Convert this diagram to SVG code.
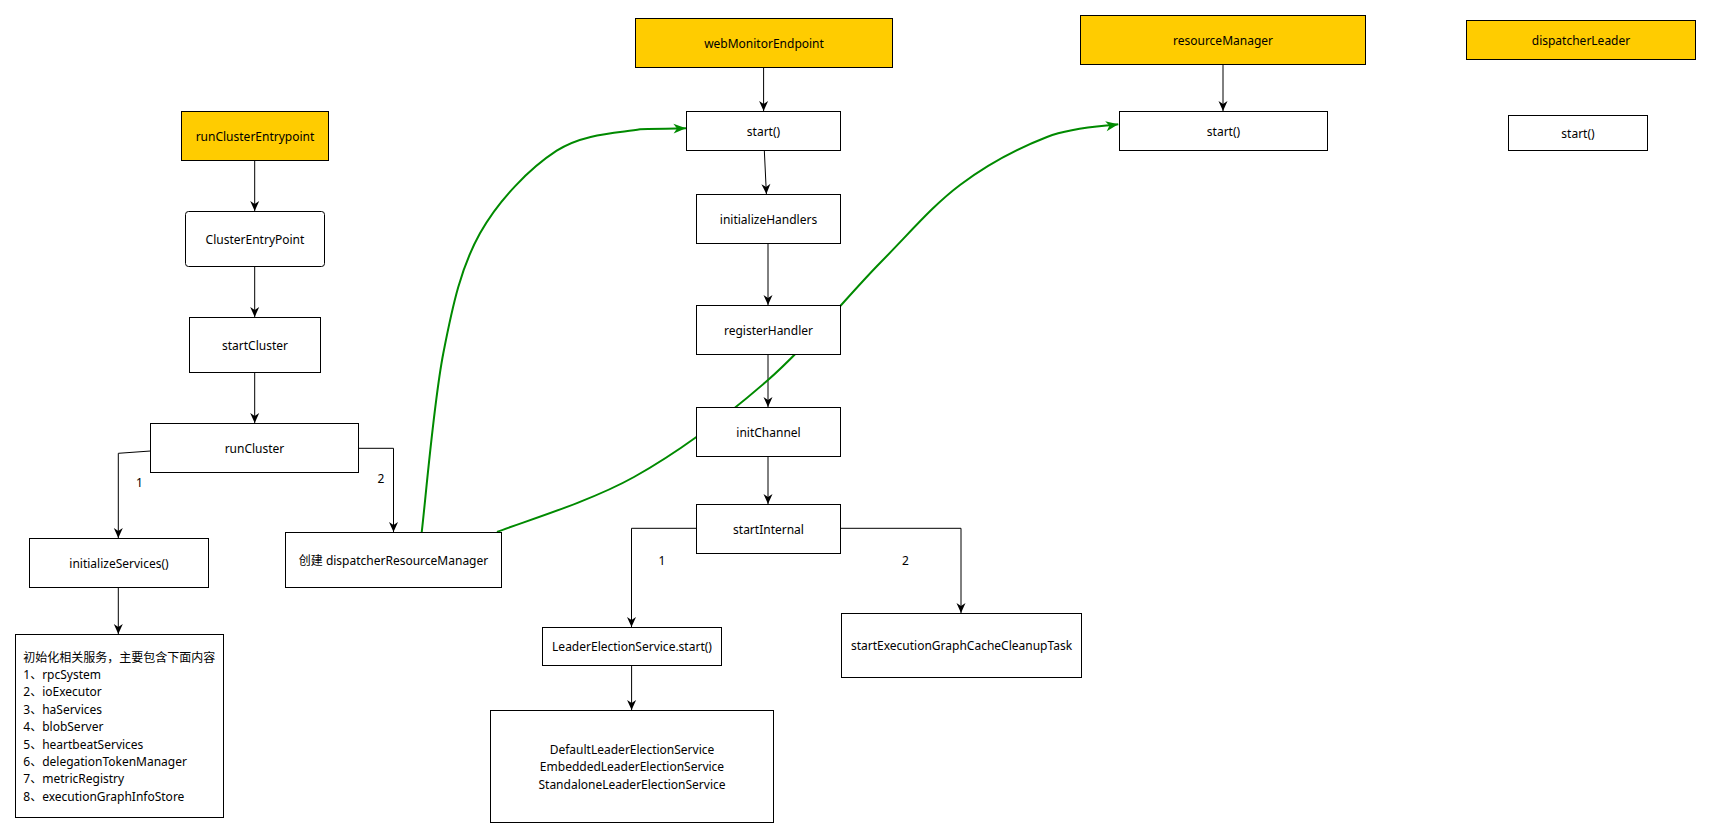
<svg xmlns="http://www.w3.org/2000/svg" width="1710" height="838" viewBox="0 0 1710 838">
<style>
  .box { fill: #ffffff; stroke: #000000; stroke-width: 1; }
  .hl { fill: #ffcc00; stroke: #000000; stroke-width: 1; }
  text { font-family: "Noto Sans", "Noto Sans CJK SC", sans-serif; font-size: 12px; fill: #000000; }
  .c { text-anchor: middle; dominant-baseline: central; }
  .l { text-anchor: start; dominant-baseline: central; }
  .edge { fill: none; stroke: #000000; stroke-width: 1; marker-end: url(#arr); }
  .green { fill: none; stroke: #008a00; stroke-width: 2; marker-end: url(#garr); }
</style>
<defs>
  <marker id="arr" viewBox="-11 -6 12 12" refX="0" refY="0" markerWidth="12" markerHeight="12" markerUnits="userSpaceOnUse" orient="auto">
    <path d="M0,0 L-10,-4.5 L-7,0 L-10,4.5 Z" fill="#000000"/>
  </marker>
  <marker id="garr" viewBox="-14 -7 15 14" refX="0" refY="0" markerWidth="15" markerHeight="14" markerUnits="userSpaceOnUse" orient="auto">
    <path d="M0,0 L-12.5,-5 L-9,0 L-12.5,5 Z" fill="#008a00"/>
  </marker>
</defs>
<rect x="0" y="0" width="1710" height="838" fill="#ffffff"/>

<g id="connectors">
  <path class="edge" d="M254.7,160.5 L254.7,211"/>
  <path class="edge" d="M254.7,266 L254.7,317"/>
  <path class="edge" d="M254.7,372 L254.7,423"/>
  <path class="edge" d="M150.5,451 L118.3,453.3 L118.3,538"/>
  <path class="edge" d="M358.5,448.3 L393.5,448.3 L393.5,532"/>
  <path class="edge" d="M118.3,587 L118.3,634"/>
  <path class="edge" d="M763.6,67 L763.6,111"/>
  <path class="edge" d="M764.3,150 L766.4,194"/>
  <path class="edge" d="M768,243 L768,305"/>
  <path class="edge" d="M768,354 L768,407"/>
  <path class="edge" d="M768,456 L768,504"/>
  <path class="edge" d="M696,528.3 L631.5,528.3 L631.5,627"/>
  <path class="edge" d="M840,528.3 L961,528.3 L961,613"/>
  <path class="edge" d="M631.6,665.5 L631.6,710"/>
  <path class="edge" d="M1223,64 L1223,111"/>
  <path class="green" d="M421.7,532.3 C425.3,502.5 433.6,403.1 443.3,353.3 C453,303.5 461.1,267.1 480,233.3 C498.9,199.5 530,168 556.7,150.7 C583.4,133.4 618.4,133 640,129.3 C661.6,128.6 678.3,128.5 686,128.3"/>
  <path class="green" d="M497,532 C519.8,522.8 588.8,502.3 634,477 C679.2,451.7 727,415.7 768,380 C809,344.3 848,295.5 880,263 C912,230.5 932.2,206 960,185 C987.8,164 1020.7,147.2 1047,137 C1073.3,126.8 1106.2,126.2 1118.3,124.3"/>
  <text class="c" x="139.5" y="482">1</text>
  <text class="c" x="381" y="478.5">2</text>
  <text class="c" x="662" y="560">1</text>
  <text class="c" x="905.5" y="560">2</text>
</g>

<g id="runClusterEntrypoint">
  <rect class="hl" x="181.5" y="111.5" width="147" height="49"/>
  <text class="c" x="255" y="136">runClusterEntrypoint</text>
</g>
<g id="ClusterEntryPoint">
  <rect class="box" x="185.5" y="211.5" width="139" height="55" rx="3" ry="3"/>
  <text class="c" x="255" y="239">ClusterEntryPoint</text>
</g>
<g id="startCluster">
  <rect class="box" x="189.5" y="317.5" width="131" height="55"/>
  <text class="c" x="255" y="345">startCluster</text>
</g>
<g id="runCluster">
  <rect class="box" x="150.5" y="423.5" width="208" height="49"/>
  <text class="c" x="254.5" y="448">runCluster</text>
</g>
<g id="initializeServices">
  <rect class="box" x="29.5" y="538.5" width="179" height="49"/>
  <text class="c" x="119" y="563">initializeServices()</text>
</g>
<g id="servicesList">
  <rect class="box" x="15.5" y="634.5" width="208" height="183"/>
  <text class="l" x="23.3" y="657">初始化相关服务，主要包含下面内容</text>
  <text class="l" x="23.3" y="674.4">1、rpcSystem</text>
  <text class="l" x="23.3" y="691.8">2、ioExecutor</text>
  <text class="l" x="23.3" y="709.2">3、haServices</text>
  <text class="l" x="23.3" y="726.6">4、blobServer</text>
  <text class="l" x="23.3" y="744">5、heartbeatServices</text>
  <text class="l" x="23.3" y="761.4">6、delegationTokenManager</text>
  <text class="l" x="23.3" y="778.8">7、metricRegistry</text>
  <text class="l" x="23.3" y="796.2">8、executionGraphInfoStore</text>
</g>
<g id="dispatcherResourceManager">
  <rect class="box" x="285.5" y="532.5" width="216" height="55"/>
  <text class="c" x="393.5" y="560.5">创建 dispatcherResourceManager</text>
</g>

<g id="webMonitorEndpoint">
  <rect class="hl" x="635.5" y="18.5" width="257" height="49"/>
  <text class="c" x="764" y="43">webMonitorEndpoint</text>
</g>
<g id="wmStart">
  <rect class="box" x="686.5" y="111.5" width="154" height="39"/>
  <text class="c" x="763.5" y="131">start()</text>
</g>
<g id="initializeHandlers">
  <rect class="box" x="696.5" y="194.5" width="144" height="49"/>
  <text class="c" x="768.5" y="219">initializeHandlers</text>
</g>
<g id="registerHandler">
  <rect class="box" x="696.5" y="305.5" width="144" height="49"/>
  <text class="c" x="768.5" y="330">registerHandler</text>
</g>
<g id="initChannel">
  <rect class="box" x="696.5" y="407.5" width="144" height="49"/>
  <text class="c" x="768.5" y="432">initChannel</text>
</g>
<g id="startInternal">
  <rect class="box" x="696.5" y="504.5" width="144" height="49"/>
  <text class="c" x="768.5" y="529">startInternal</text>
</g>
<g id="leaderElectionStart">
  <rect class="box" x="542.5" y="627.5" width="179" height="38"/>
  <text class="c" x="632" y="646.5">LeaderElectionService.start()</text>
</g>
<g id="leaderElectionImpls">
  <rect class="box" x="490.5" y="710.5" width="283" height="112"/>
  <text class="c" x="632" y="749.3">DefaultLeaderElectionService</text>
  <text class="c" x="632" y="766.8">EmbeddedLeaderElectionService</text>
  <text class="c" x="632" y="784.3">StandaloneLeaderElectionService</text>
</g>
<g id="cleanupTask">
  <rect class="box" x="841.5" y="613.5" width="240" height="64"/>
  <text class="c" x="961.5" y="645.5">startExecutionGraphCacheCleanupTask</text>
</g>

<g id="resourceManager">
  <rect class="hl" x="1080.5" y="15.5" width="285" height="49"/>
  <text class="c" x="1223" y="40">resourceManager</text>
</g>
<g id="rmStart">
  <rect class="box" x="1119.5" y="111.5" width="208" height="39"/>
  <text class="c" x="1223.5" y="131">start()</text>
</g>
<g id="dispatcherLeader">
  <rect class="hl" x="1466.5" y="20.5" width="229" height="39"/>
  <text class="c" x="1581" y="40">dispatcherLeader</text>
</g>
<g id="dlStart">
  <rect class="box" x="1508.5" y="115.5" width="139" height="35"/>
  <text class="c" x="1578" y="133">start()</text>
</g>
</svg>
